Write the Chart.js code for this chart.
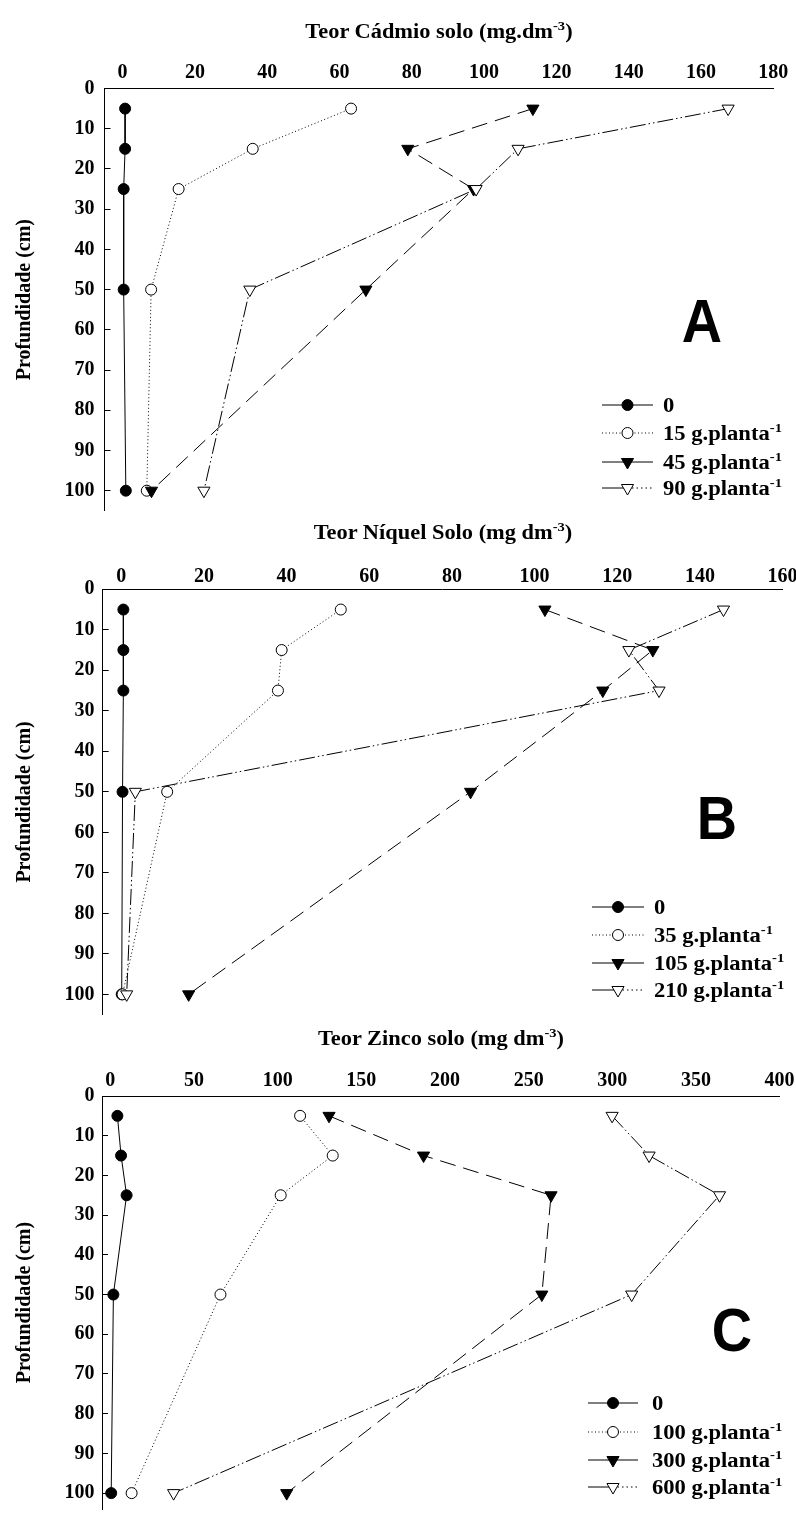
<!DOCTYPE html>
<html lang="pt">
<head>
<meta charset="UTF-8">
<title>Teores de Cd, Ni e Zn no solo</title>
<script src="https://cdn.jsdelivr.net/npm/chart.js"></script>
<style>
  body { margin:0; background:#fff; width:796px; height:1517px; position:relative; overflow:hidden;
         font-family:"Liberation Serif","Times New Roman",serif; font-weight:bold; color:#000; }
  canvas { position:absolute; left:0; }
  .titulo { position:absolute; width:500px; text-align:center; font-size:20px; line-height:20px;
            white-space:nowrap; transform:scaleX(1.12); }
  .leg { position:absolute; font-size:20px; line-height:20px; white-space:nowrap;
         transform:scaleX(1.13); transform-origin:0 50%; }
  sup { font-size:13px; position:relative; top:-8px; vertical-align:baseline; line-height:0; }
  .letra { position:absolute; width:100px; text-align:center; font-family:"Liberation Sans",Arial,sans-serif;
           font-size:62px; line-height:62px; font-weight:bold; transform:scaleX(0.9); }
  svg { position:absolute; overflow:visible; }
</style>
</head>
<body>

<script>
// profundidade (cm) - eixo y
const profundidade = [5, 15, 25, 50, 100];

// Cadmio (mg.dm-3)
const dosesCd = ['0', '15', '45', '90'];
const cadmio0  = [0.7, 0.7, 0.3, 0.3, 0.9];
const cadmio15 = [63.2, 36.0, 15.5, 7.9, 6.7];
const cadmio45 = [113.5, 78.9, 97.1, 67.3, 8.0];
const cadmio90 = [167.5, 109.4, 97.8, 35.2, 22.5];

// Niquel (mg dm-3)
const dosesNi = ['0', '35', '105', '210'];
const niquel0   = [0.5, 0.5, 0.5, 0.3, 0.1];
const niquel35  = [53.1, 38.8, 37.9, 11.1, 0.3];
const niquel105 = [102.5, 128.6, 116.5, 84.5, 16.3];
const niquel210 = [145.7, 122.8, 130.1, 3.4, 1.3];

// Zinco (mg dm-3)
const dosesZn = ['0', '100', '300', '600'];
const zinco0   = [4.2, 6.4, 9.7, 1.8, 0.5];
const zinco100 = [113.4, 132.9, 101.8, 65.8, 12.7];
const zinco300 = [130.7, 187.2, 263.4, 257.9, 105.4];
const zinco600 = [299.9, 322.0, 364.1, 311.6, 37.8];

// estilo de cada serie (mesma ordem nos tres graficos)
const estilos = [
  { forma:'circle',   raio:5.5, rot:0,   fundo:'#000', traco:[],                      legE:[],      legD:[] },
  { forma:'circle',   raio:5.5, rot:0,   fundo:'#fff', traco:[1, 2.5],                legE:[1,2.5], legD:[1,2.5] },
  { forma:'triangle', raio:7,   rot:180, fundo:'#000', traco:[16, 8],                 legE:[],      legD:[] },
  { forma:'triangle', raio:7,   rot:180, fundo:'#fff', traco:[16, 3, 1.5, 3, 1.5, 3], legE:[],      legD:[1.5,3] }
];

const fonteEixo = { family:'"Liberation Serif", "Times New Roman", serif', weight:'bold', size:20 };

// posicoes de cada painel na pagina
const paineis = [
  { titulo:'Teor Cádmio solo (mg.dm<sup>-3</sup>)', doses:dosesCd, series:[cadmio0, cadmio15, cadmio45, cadmio90],
    cTop:0, cAlt:520, top:88.5, bottom:510.8, left:104.5, right:773.3, xmin:-5, xmax:180, passo:20, ymax:105,
    padX:3.7, tituloY:30.5, letra:'A', letraX:701.7, letraY:320,
    legX:602, legW:51, legTxt:663, legY:[405, 433.3, 461.7, 488.3] },
  { titulo:'Teor Níquel Solo (mg dm<sup>-3</sup>)', doses:dosesNi, series:[niquel0, niquel35, niquel105, niquel210],
    cTop:520, cAlt:505, top:589.3, bottom:1014.6, left:102.7, right:782.6, xmin:-4.5, xmax:160, passo:20, ymax:105,
    padX:0.6, tituloY:531.7, letra:'B', letraX:716.5, letraY:817,
    legX:592, legW:52, legTxt:654, legY:[906.7, 935, 963.3, 990] },
  { titulo:'Teor Zinco solo (mg dm<sup>-3</sup>)', doses:dosesZn, series:[zinco0, zinco100, zinco300, zinco600],
    cTop:1025, cAlt:492, top:1096, bottom:1517, left:102, right:779.6, xmin:-5, xmax:400, passo:50, ymax:104,
    padX:3, tituloY:1038, letra:'C', letraX:732, letraY:1329,
    legX:588, legW:50, legTxt:652, legY:[1403.3, 1431.7, 1460, 1486.7] }
];

function amostraLegenda(p, i, st) {
  const w = p.legW, m = w / 2, y = 8;
  let marca;
  if (st.forma === 'circle') {
    marca = `<circle cx="${m}" cy="${y}" r="${st.raio}" fill="${st.fundo}" stroke="#000" stroke-width="1"/>`;
  } else {
    const r = st.raio, dx = r * 0.866;
    marca = `<polygon points="${m},${y + r} ${m - dx},${y - r / 2} ${m + dx},${y - r / 2}" fill="${st.fundo}" stroke="#000" stroke-width="1"/>`;
  }
  return `<svg style="left:${p.legX}px;top:${p.legY[i] - 8}px" width="${w}" height="16">
    <line x1="0" y1="${y}" x2="${m}" y2="${y}" stroke="#000" stroke-width="1" stroke-dasharray="${st.legE.join(' ') || 'none'}"/>
    <line x1="${m}" y1="${y}" x2="${w}" y2="${y}" stroke="#000" stroke-width="1" stroke-dasharray="${st.legD.join(' ') || 'none'}"/>
    ${marca}</svg>`;
}

paineis.forEach((p, k) => {
  const cv = document.createElement('canvas');
  cv.width = 796; cv.height = p.cAlt;
  cv.style.top = p.cTop + 'px';
  document.body.appendChild(cv);

  // titulo, letra e legenda como texto HTML
  let html = `<div class="titulo" style="left:${(p.left + p.right) / 2 - 250}px;top:${p.tituloY - 10}px">${p.titulo}</div>`;
  html += `<div class="letra" style="left:${p.letraX - 50}px;top:${p.letraY - 30}px">${p.letra}</div>`;
  p.doses.forEach((d, i) => {
    html += amostraLegenda(p, i, estilos[i]);
    const txt = d === '0' ? '0' : d + ' g.planta<sup>-1</sup>';
    html += `<div class="leg" style="left:${p.legTxt}px;top:${p.legY[i] - 10}px">${txt}</div>`;
  });
  document.body.insertAdjacentHTML('beforeend', html);

  const datasets = p.series.map((vals, i) => {
    const st = estilos[i];
    return {
      label: p.doses[i],
      data: profundidade.map((prof, j) => ({ x: vals[j], y: prof })),
      showLine: true,
      borderColor: '#000',
      borderWidth: 1,
      borderDash: st.traco,
      pointStyle: st.forma,
      pointRadius: st.raio,
      pointRotation: st.rot,
      pointBackgroundColor: st.fundo,
      pointBorderColor: '#000',
      pointBorderWidth: 1,
      tension: 0,
      order: 3 - i,
      clip: false
    };
  });

  new Chart(cv.getContext('2d'), {
    type: 'scatter',
    data: { datasets },
    options: {
      responsive: false,
      animation: false,
      devicePixelRatio: 1,
      layout: { padding: { left: 0, top: 0, right: 796 - p.right, bottom: p.cTop + p.cAlt - p.bottom } },
      plugins: { legend: { display: false }, tooltip: { enabled: false } },
      scales: {
        x: {
          type: 'linear', position: 'top', min: p.xmin, max: p.xmax,
          ticks: { stepSize: p.passo, includeBounds: false, color: '#000', font: fonteEixo,
                   padding: p.padX, maxRotation: 0, autoSkip: false },
          grid: { display: true, drawOnChartArea: false, drawTicks: false },
          border: { display: true, color: '#000', width: 1 },
          afterFit(s) { s.height = p.top - p.cTop; s.paddingLeft = 0; s.paddingRight = 0; }
        },
        y: {
          type: 'linear', reverse: true, min: 0, max: p.ymax,
          ticks: { stepSize: 10, includeBounds: false, color: '#000', font: fonteEixo,
                   padding: p.left + 6 - 94.5, autoSkip: false },
          grid: { display: true, drawOnChartArea: false, drawTicks: true, tickLength: -6,
                  tickColor: '#000', tickWidth: 1 },
          border: { display: true, color: '#000', width: 1 },
          title: { display: true, text: 'Profundidade (cm)', color: '#000',
                   font: { family: fonteEixo.family, weight: 'bold', size: 20 }, padding: { top: 13, bottom: 0 } },
          afterFit(s) { s.width = p.left; s.paddingTop = 0; s.paddingBottom = 0; }
        }
      }
    }
  });
});
</script>
</body>
</html>
